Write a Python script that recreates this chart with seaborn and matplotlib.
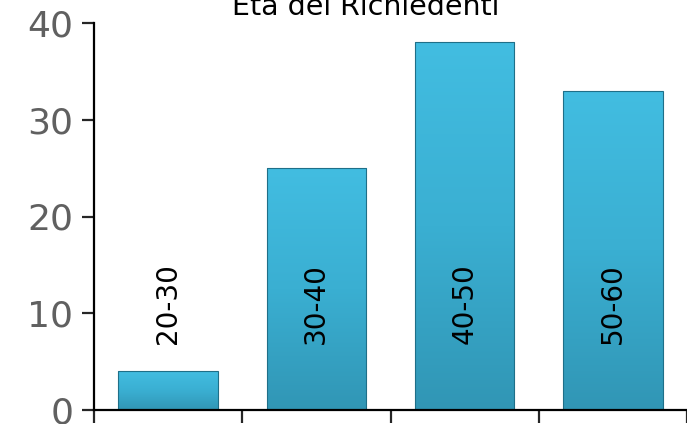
import numpy as np
import matplotlib
matplotlib.use("Agg")
import matplotlib.pyplot as plt
import seaborn as sns
from matplotlib.colors import LinearSegmentedColormap

# Dati
categorie = ["20-30", "30-40", "40-50", "50-60"]
valori = [4, 25, 38, 33]
titolo = "Età dei Richiedenti"

sns.set_style("white")
plt.rcParams["font.family"] = ["DejaVu Sans"]

fig = plt.figure(figsize=(6.87, 4.24), dpi=100)
ax = fig.add_axes([94 / 687, 1 - 410 / 424, 1 - 94 / 687, (410 - 23) / 424])

sns.barplot(x=categorie, y=valori, color="#3AB0D2", width=0.67,
            edgecolor="#1f6f88", linewidth=0.8, ax=ax)

# gradiente verticale dentro ogni barra
cmap = LinearSegmentedColormap.from_list("bar", ["#3196b5", "#3aafd2", "#42bde1"])
grad = np.linspace(0, 1, 256).reshape(-1, 1)
for p in ax.patches:
    x0, y0 = p.get_x(), p.get_y()
    w, h = p.get_width(), p.get_height()
    im = ax.imshow(grad, cmap=cmap, origin="lower", aspect="auto",
                   extent=[x0, x0 + w, y0, y0 + h], zorder=p.get_zorder())
    im.set_clip_path(p)
    p.set_facecolor("none")
    p.set_zorder(p.get_zorder() + 0.5)

# etichette categorie verticali
for i, c in enumerate(categorie):
    ax.text(i, 11, c, rotation=90, ha="center", va="center",
            fontsize=20, color="black")

ax.set_xlim(-0.5, len(categorie) - 0.5)
ax.set_ylim(0, 40)
ax.set_yticks([0, 10, 20, 30, 40])
ax.set_xticks(np.arange(len(categorie) + 1) - 0.5)
ax.set_xticklabels([])
ax.set_xlabel("")
ax.set_ylabel("")
ax.tick_params(axis="y", labelsize=26, labelcolor="#606060", length=9,
               width=1.6, direction="out", left=True, pad=6)
ax.tick_params(axis="x", length=9, width=1.6, direction="out", bottom=True)

for s in ["top", "right"]:
    ax.spines[s].set_visible(False)
for s in ["left", "bottom"]:
    ax.spines[s].set_color("black")
    ax.spines[s].set_linewidth(1.6)

fig.text(366 / 687, 1 - 15 / 424, titolo, ha="center", va="baseline",
         fontsize=20.5, color="black")

fig.savefig("out.png", dpi=100)
